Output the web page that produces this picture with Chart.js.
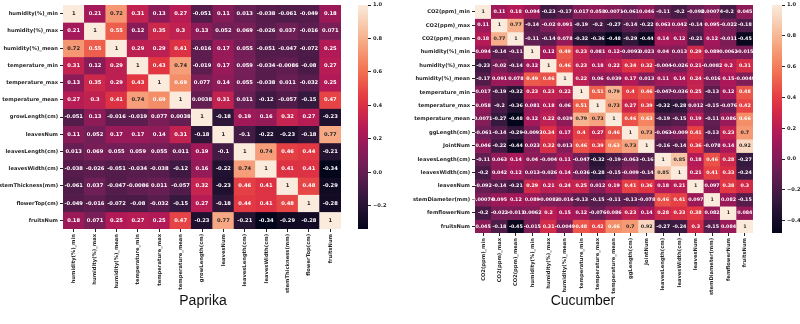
<!DOCTYPE html>
<html>
<head>
<meta charset="utf-8">
<script src="https://cdn.jsdelivr.net/npm/chart.js@4.4.1/dist/chart.umd.min.js"></script>
<style>
  html, body { margin: 0; padding: 0; background: #fff; }
  #wrap { position: relative; width: 800px; height: 324px; overflow: hidden; }
  canvas { position: absolute; }
  .title { position: absolute; font: 14px "Liberation Sans", Arial, sans-serif; color: #111; transform: translateX(-50%); white-space: nowrap; }
</style>
</head>
<body>
<div id="wrap">
  <canvas id="paprikaMap" width="350" height="300" style="left:0;top:0"></canvas>
  <canvas id="paprikaBar" width="50" height="245" style="left:350px;top:0"></canvas>
  <canvas id="cucumberMap" width="350" height="300" style="left:410px;top:0"></canvas>
  <canvas id="cucumberBar" width="40" height="245" style="left:760px;top:0"></canvas>
  <div class="title" style="left:203px;top:292px">Paprika</div>
  <div class="title" style="left:583px;top:292px">Cucumber</div>
</div>
<script>
// ---- paprika correlation matrix ----
const paprikaVars = [
  'humidity(%)_min', 'humidity(%)_max', 'humidity(%)_mean',
  'temperature_min', 'temperature_max', 'temperature_mean',
  'growLength(cm)', 'leavesNum', 'leavesLength(cm)', 'leavesWidth(cm)',
  'stemThickness(mm)', 'flowerTop(cm)', 'fruitsNum'
];
const paprikaCorr = [
  [1, 0.21, 0.72, 0.31, 0.13, 0.27, -0.051, 0.11, 0.013, -0.038, -0.061, -0.049, 0.18],
  [0.21, 1, 0.55, 0.12, 0.35, 0.3, 0.13, 0.052, 0.069, -0.026, 0.037, -0.016, 0.071],
  [0.72, 0.55, 1, 0.29, 0.29, 0.41, -0.016, 0.17, 0.055, -0.051, -0.047, -0.072, 0.25],
  [0.31, 0.12, 0.29, 1, 0.43, 0.74, -0.019, 0.17, 0.059, -0.034, -0.0086, -0.08, 0.27],
  [0.13, 0.35, 0.29, 0.43, 1, 0.69, 0.077, 0.14, 0.055, -0.038, 0.011, -0.032, 0.25],
  [0.27, 0.3, 0.41, 0.74, 0.69, 1, 0.0038, 0.31, 0.011, -0.12, -0.057, -0.15, 0.47],
  [-0.051, 0.13, -0.016, -0.019, 0.077, 0.0038, 1, -0.18, 0.19, 0.16, 0.32, 0.27, -0.23],
  [0.11, 0.052, 0.17, 0.17, 0.14, 0.31, -0.18, 1, -0.1, -0.22, -0.23, -0.18, 0.77],
  [0.013, 0.069, 0.055, 0.059, 0.055, 0.011, 0.19, -0.1, 1, 0.74, 0.46, 0.44, -0.21],
  [-0.038, -0.026, -0.051, -0.034, -0.038, -0.12, 0.16, -0.22, 0.74, 1, 0.41, 0.41, -0.34],
  [-0.061, 0.037, -0.047, -0.0086, 0.011, -0.057, 0.32, -0.23, 0.46, 0.41, 1, 0.48, -0.29],
  [-0.049, -0.016, -0.072, -0.08, -0.032, -0.15, 0.27, -0.18, 0.44, 0.41, 0.48, 1, -0.28],
  [0.18, 0.071, 0.25, 0.27, 0.25, 0.47, -0.23, 0.77, -0.21, -0.34, -0.29, -0.28, 1]
];
const paprikaBarTicks = [-0.2, 0, 0.2, 0.4, 0.6, 0.8, 1.0];

// ---- cucumber correlation matrix ----
const cucumberVars = [
  'CO2(ppm)_min', 'CO2(ppm)_max', 'CO2(ppm)_mean',
  'humidity(%)_min', 'humidity(%)_max', 'humidity(%)_mean',
  'temperature_min', 'temperature_max', 'temperature_mean',
  'ggLength(cm)', 'JointNum', 'leavesLength(cm)', 'leavesWidth(cm)',
  'leavesNum', 'stemDiameter(mm)', 'femflowerNum', 'fruitsNum'
];
const cucumberCorr = [
  [1, 0.11, 0.18, 0.094, -0.23, -0.17, 0.017, 0.058, 0.0071, -0.061, 0.046, -0.11, -0.2, -0.092, 0.00074, -0.2, 0.045],
  [0.11, 1, 0.77, -0.14, -0.02, 0.091, -0.19, -0.2, -0.27, -0.14, -0.22, 0.063, 0.042, -0.14, 0.095, -0.022, -0.18],
  [0.18, 0.77, 1, -0.11, -0.14, 0.078, -0.32, -0.36, -0.48, -0.29, -0.44, 0.14, 0.12, -0.21, 0.12, -0.011, -0.45],
  [0.094, -0.14, -0.11, 1, 0.12, 0.49, 0.23, 0.081, 0.12, -0.0093, 0.023, 0.04, 0.013, 0.29, 0.089, 0.0062, -0.015],
  [-0.23, -0.02, -0.14, 0.12, 1, 0.46, 0.23, 0.18, 0.22, 0.34, 0.32, -0.004, -0.026, 0.21, -0.0082, 0.2, 0.31],
  [-0.17, 0.091, 0.078, 0.49, 0.46, 1, 0.22, 0.06, 0.039, 0.17, 0.013, 0.11, 0.14, 0.24, -0.016, 0.15, -0.0049],
  [0.017, -0.19, -0.32, 0.23, 0.23, 0.22, 1, 0.51, 0.79, 0.4, 0.46, -0.047, -0.036, 0.25, -0.13, 0.12, 0.48],
  [0.058, -0.2, -0.36, 0.081, 0.18, 0.06, 0.51, 1, 0.73, 0.27, 0.39, -0.32, -0.28, 0.012, -0.15, -0.076, 0.42],
  [0.0071, -0.27, -0.48, 0.12, 0.22, 0.039, 0.79, 0.73, 1, 0.46, 0.63, -0.19, -0.15, 0.19, -0.11, 0.086, 0.66],
  [-0.061, -0.14, -0.29, -0.0093, 0.34, 0.17, 0.4, 0.27, 0.46, 1, 0.73, -0.063, -0.009, 0.41, -0.13, 0.23, 0.7],
  [0.046, -0.22, -0.44, 0.023, 0.32, 0.013, 0.46, 0.39, 0.63, 0.73, 1, -0.16, -0.14, 0.36, -0.078, 0.14, 0.92],
  [-0.11, 0.063, 0.14, 0.04, -0.004, 0.11, -0.047, -0.32, -0.19, -0.063, -0.16, 1, 0.85, 0.18, 0.46, 0.28, -0.27],
  [-0.2, 0.042, 0.12, 0.013, -0.026, 0.14, -0.036, -0.28, -0.15, -0.009, -0.14, 0.85, 1, 0.21, 0.41, 0.33, -0.24],
  [-0.092, -0.14, -0.21, 0.29, 0.21, 0.24, 0.25, 0.012, 0.19, 0.41, 0.36, 0.18, 0.21, 1, 0.097, 0.38, 0.3],
  [0.00074, 0.095, 0.12, 0.089, -0.0082, -0.016, -0.13, -0.15, -0.11, -0.13, -0.078, 0.46, 0.41, 0.097, 1, 0.082, -0.15],
  [-0.2, -0.022, -0.011, 0.0062, 0.2, 0.15, 0.12, -0.076, 0.086, 0.23, 0.14, 0.28, 0.33, 0.38, 0.082, 1, 0.084],
  [0.045, -0.18, -0.45, -0.015, 0.31, -0.0049, 0.48, 0.42, 0.66, 0.7, 0.92, -0.27, -0.24, 0.3, -0.15, 0.084, 1]
];
const cucumberBarTicks = [-0.4, -0.2, 0, 0.2, 0.4, 0.6, 0.8, 1.0];

// rocket colormap, sampled stops
const ROCKET = [
  [0, 3, 5, 26], [1 / 7, 53, 25, 62], [2 / 7, 112, 31, 87], [3 / 7, 173, 23, 89],
  [4 / 7, 225, 51, 66], [5 / 7, 243, 118, 81], [6 / 7, 246, 180, 143], [1, 250, 235, 221]
];
function rocket(t) {
  t = Math.max(0, Math.min(1, t));
  for (let i = 1; i < ROCKET.length; i++) {
    if (t <= ROCKET[i][0]) {
      const a = ROCKET[i - 1], b = ROCKET[i];
      const f = (t - a[0]) / (b[0] - a[0]);
      return [1, 2, 3].map(k => Math.round(a[k] + (b[k] - a[k]) * f));
    }
  }
  return ROCKET[ROCKET.length - 1].slice(1);
}
const rgb = c => `rgb(${c[0]},${c[1]},${c[2]})`;
function luminance(c) {
  const lin = c.map(v => { v /= 255; return v <= 0.03928 ? v / 12.92 : Math.pow((v + 0.055) / 1.055, 2.4); });
  return 0.2126 * lin[0] + 0.7152 * lin[1] + 0.0722 * lin[2];
}

const INK = '#262626';
const FAMILY = '"DejaVu Sans", sans-serif';

// writes each correlation value in the middle of its cell
const cellLabels = {
  id: 'cellLabels',
  afterDatasetsDraw(chart, args, opts) {
    const ctx = chart.ctx;
    ctx.save();
    ctx.font = `bold ${opts.size}px ${FAMILY}`;
    ctx.textAlign = 'center';
    ctx.textBaseline = 'middle';
    chart.data.datasets.forEach((ds, r) => {
      chart.getDatasetMeta(r).data.forEach((bar, c) => {
        const p = bar.getProps(['x', 'y', 'base'], true);
        ctx.fillStyle = luminance(ds.cellRgb[c]) > 0.408 ? INK : '#fff';
        ctx.fillText(String(ds.corr[c]), p.x, (p.y + p.base) / 2);
      });
    });
    ctx.restore();
  }
};

function buildHeatmap(id, names, corr, box) {
  const flat = corr.flat();
  const vmin = Math.min(...flat), vmax = Math.max(...flat);
  const datasets = names.map((name, r) => {
    const cellRgb = corr[r].map(v => rocket((v - vmin) / (vmax - vmin)));
    return {
      label: name,
      data: corr[r].map(() => [r, r + 1]),
      corr: corr[r],
      cellRgb,
      backgroundColor: cellRgb.map(rgb),
      borderWidth: 0,
      grouped: false,
      barPercentage: 1,
      categoryPercentage: 1
    };
  });
  const tickFont = { family: FAMILY, size: 5.2, weight: 'bold' };
  new Chart(document.getElementById(id), {
    type: 'bar',
    data: { labels: names, datasets },
    options: {
      responsive: false,
      animation: false,
      layout: { padding: box.padding },
      plugins: {
        legend: { display: false },
        tooltip: { enabled: false },
        cellLabels: { size: box.annSize }
      },
      scales: {
        x: {
          type: 'category',
          offset: true,
          grid: { offset: false, drawOnChartArea: false, tickLength: 3, tickColor: INK },
          border: { display: false },
          ticks: { autoSkip: false, minRotation: 90, maxRotation: 90, padding: 2, color: INK, font: tickFont },
          afterFit: s => { s.height = box.xHeight; }
        },
        y: {
          type: 'linear',
          reverse: true,
          min: 0,
          max: names.length,
          afterBuildTicks: s => { s.ticks = names.map((_, i) => ({ value: i + 0.5 })); },
          grid: { drawOnChartArea: false, tickLength: 3, tickColor: INK },
          border: { display: false },
          ticks: { autoSkip: false, padding: 2, color: INK, font: tickFont, callback: (v, i) => names[i] },
          afterFit: s => { s.width = box.yWidth; }
        }
      }
    },
    plugins: [cellLabels]
  });
  return [vmin, vmax];
}

function buildColorbar(id, range, tickVals, box) {
  const [vmin, vmax] = range;
  new Chart(document.getElementById(id), {
    type: 'bar',
    data: {
      labels: [''],
      datasets: [{
        data: [[vmin, vmax]],
        backgroundColor: ctx => {
          const chart = ctx.chart;
          if (!chart.chartArea) return rgb(rocket(0.5));
          const y = chart.scales.y;
          const g = chart.ctx.createLinearGradient(0, y.getPixelForValue(vmin), 0, y.getPixelForValue(vmax));
          for (let i = 0; i <= 20; i++) g.addColorStop(i / 20, rgb(rocket(i / 20)));
          return g;
        },
        borderWidth: 0,
        barPercentage: 1,
        categoryPercentage: 1
      }]
    },
    options: {
      responsive: false,
      animation: false,
      layout: { padding: box.padding },
      plugins: { legend: { display: false }, tooltip: { enabled: false } },
      scales: {
        x: { display: false },
        y: {
          position: 'right',
          min: vmin,
          max: vmax,
          afterBuildTicks: s => { s.ticks = tickVals.map(v => ({ value: v })); },
          grid: { drawOnChartArea: false, tickLength: 3, tickColor: INK },
          border: { display: false },
          ticks: {
            padding: 2, color: INK,
            font: { family: FAMILY, size: 5.2, weight: 'bold' },
            callback: v => (v < 0 ? '\u2212' : '') + Math.abs(v).toFixed(1)
          },
          afterFit: s => { s.width = box.yWidth; }
        }
      }
    }
  });
}

const paprikaRange = buildHeatmap('paprikaMap', paprikaVars, paprikaCorr,
  { padding: { top: 2, right: 9, left: 0, bottom: 0 }, yWidth: 63, xHeight: 71, annSize: 5.2 });
buildColorbar('paprikaBar', paprikaRange, paprikaBarTicks,
  { padding: { top: 2, left: 8, right: 0, bottom: 16 }, yWidth: 32 });

const cucumberRange = buildHeatmap('cucumberMap', cucumberVars, cucumberCorr,
  { padding: { top: 2, right: 7, left: 0, bottom: 0 }, yWidth: 65, xHeight: 67, annSize: 4.8 });
buildColorbar('cucumberBar', cucumberRange, cucumberBarTicks,
  { padding: { top: 2, left: 12, right: 0, bottom: 12 }, yWidth: 18 });
</script>
</body>
</html>
